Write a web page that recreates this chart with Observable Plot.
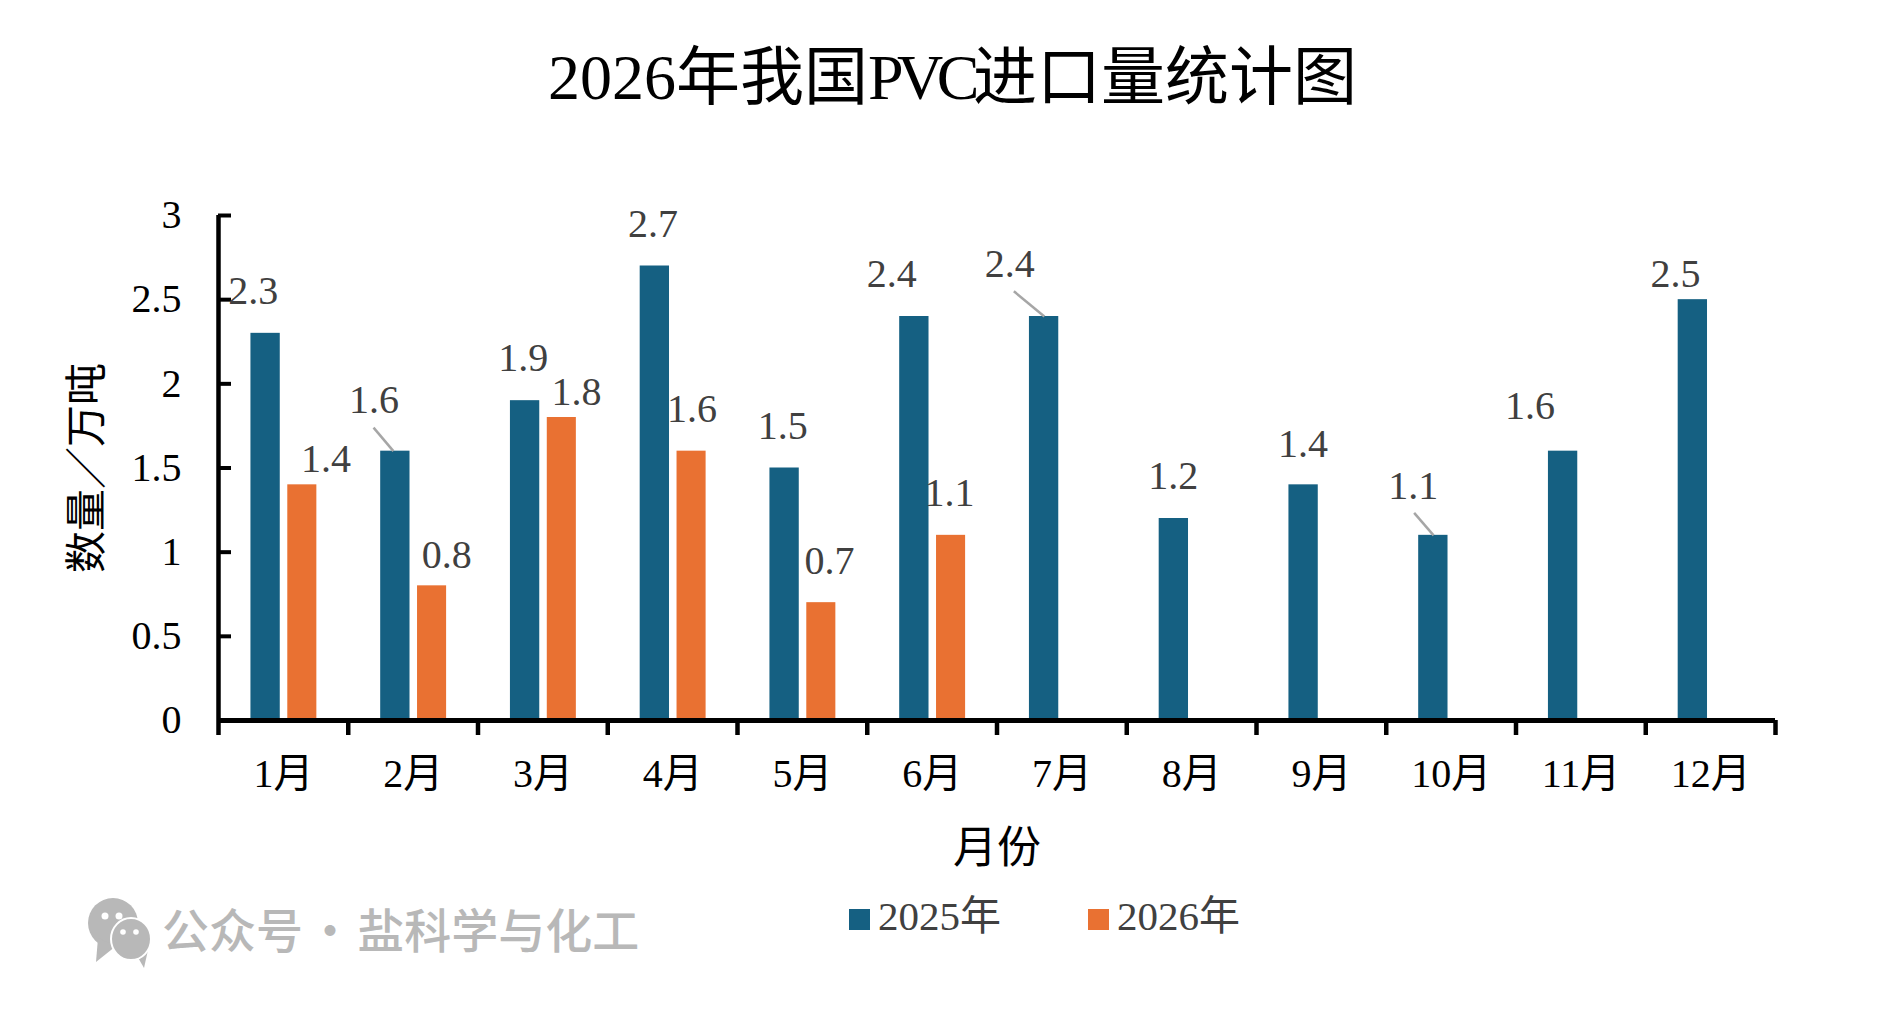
<!DOCTYPE html>
<html lang="zh">
<head>
<meta charset="utf-8">
<script src="https://cdn.jsdelivr.net/npm/d3@7"></script>
<script src="https://cdn.jsdelivr.net/npm/@observablehq/plot@0.6"></script>
<style>
html,body{margin:0;padding:0;background:#fff;width:1903px;height:1018px;overflow:hidden;}
body{position:relative;font-family:"Liberation Serif","Noto Sans CJK SC",serif;}
#title{position:absolute;left:0;top:0;width:1905px;height:150px;line-height:155px;text-align:center;font-size:64px;color:#000;font-weight:400;white-space:nowrap;}
#title span{letter-spacing:-6.5px;}
#chart{position:absolute;left:0;top:150px;}
.lg{position:absolute;top:891px;height:50px;line-height:50px;font-size:41px;color:#404040;white-space:nowrap;}
.sw{position:absolute;top:913px;width:21px;height:21px;}
#wm{position:absolute;left:162px;top:893px;height:70px;line-height:70px;font-family:"Noto Sans CJK SC",sans-serif;font-size:47px;font-weight:500;word-spacing:-7px;color:#b8b8b8;white-space:nowrap;}
#icon{position:absolute;left:86px;top:896px;}
</style>
</head>
<body>
<div id="title">2026年我国<span>PVC</span>进口量统计图</div>
<div id="chart"></div>
<svg id="icon" width="70" height="78" viewBox="0 0 70 78">
  <ellipse cx="27" cy="27" rx="25" ry="25" fill="#b8b8b8"/>
  <path d="M10 66 L12 42 L30 50 Z" fill="#b8b8b8"/>
  <circle cx="19" cy="20" r="3.5" fill="#fff"/><circle cx="33" cy="20" r="3.5" fill="#fff"/>
  <path d="M58 72 L50 58 L62 54 Z" fill="#b8b8b8"/>
  <ellipse cx="45" cy="43" rx="20" ry="21" fill="#b8b8b8" stroke="#fff" stroke-width="2"/>
  <circle cx="37" cy="36" r="2.8" fill="#fff"/><circle cx="50" cy="36" r="2.8" fill="#fff"/>
</svg>
<div id="wm">公众号 · 盐科学与化工</div>
<div class="sw" style="left:849px;top:909px;background:#156082"></div>
<div class="lg" style="left:878px">2025年</div>
<div class="sw" style="left:1088px;top:909px;background:#E97132"></div>
<div class="lg" style="left:1117px">2026年</div>
<script>
const months = ["1月","2月","3月","4月","5月","6月","7月","8月","9月","10月","11月","12月"];
const values2025 = [2.3,1.6,1.9,2.7,1.5,2.4,2.4,1.2,1.4,1.1,1.6,2.5];
const values2026 = [1.4,0.8,1.8,1.6,0.7,1.1];
const yTicks = [0,0.5,1,1.5,2,2.5,3];
const yTitle = "数量\uFF0F万吨";
const xTitle = "月份";
// Hand-placed data labels, in data units: [text, month axis position, value axis position]
const labels2025 = [["2.3",0.28,2.55],["1.6",1.21,1.90],["1.9",2.36,2.15],["2.7",3.36,2.95],["1.5",4.36,1.75],["2.4",5.20,2.65],["2.4",6.11,2.71],["1.2",7.37,1.45],["1.4",8.37,1.64],["1.1",9.22,1.39],["1.6",10.12,1.87],["2.5",11.24,2.65]];
const labels2026 = [["1.4",0.84,1.55],["0.8",1.77,0.98],["1.8",2.77,1.95],["1.6",3.66,1.85],["0.7",4.72,0.945],["1.1",5.645,1.35]];
// Leader lines, in data units: [from month pos, from value, to month pos, to value]
const leaders = [[1.195,1.74,1.348,1.6],[6.13,2.55,6.365,2.4],[9.215,1.233,9.365,1.1]];

const bars25 = values2025.map((v,i)=>({i,v}));
const bars26 = values2026.map((v,i)=>({i,v}));
const font = '"Liberation Serif","Noto Sans CJK SC",serif';

const plot = Plot.plot({
  width:1903, height:730,
  marginTop:65, marginBottom:160, marginLeft:218, marginRight:128,
  x:{type:"linear",domain:[0,12]},
  y:{domain:[0,3]},
  style:{fontFamily:font,background:"#fff",overflow:"visible"},
  marks:[
    Plot.rectY(bars25,{x1:d=>d.i+0.25,x2:d=>d.i+0.476,y:"v",fill:"#156082"}),
    Plot.rectY(bars26,{x1:d=>d.i+0.534,x2:d=>d.i+0.758,y:"v",fill:"#E97132"}),
    Plot.ruleY([0],{stroke:"#000",strokeWidth:5}),
    Plot.ruleX([0],{y1:0,y2:3,stroke:"#000",strokeWidth:4.5}),
    Plot.axisY({ticks:yTicks,tickSize:-13,tickPadding:50,strokeWidth:4,stroke:"#000",tickFormat:d=>String(d),fontSize:40,color:"#000",fill:"#000",label:null}),
    Plot.axisX({ticks:d3.range(0,13),tickSize:15,strokeWidth:4.5,stroke:"#000",tickFormat:()=>"",label:null}),
    Plot.axisX({ticks:months.map((m,i)=>i+0.5),tickSize:0,tickPadding:38,tickFormat:d=>months[d-0.5],fontSize:40,fill:"#000",label:null}),
    Plot.link(leaders,{x1:d=>d[0],y1:d=>d[1],x2:d=>d[2],y2:d=>d[3],stroke:"#a6a6a6",strokeWidth:2.5}),
    Plot.text(labels2025.concat(labels2026),{x:d=>d[1],y:d=>d[2],dx:-1.5,text:d=>d[0],fontSize:40,fill:"#404040",textAnchor:"middle"}),
    Plot.text([yTitle],{frameAnchor:"left",dx:-131,rotate:-90,fontSize:42,fill:"#000",textAnchor:"middle"}),
    Plot.text([xTitle],{frameAnchor:"bottom",dy:142,fontSize:44,fill:"#000"})
  ]
});
document.getElementById("chart").appendChild(plot);
</script>
</body>
</html>
